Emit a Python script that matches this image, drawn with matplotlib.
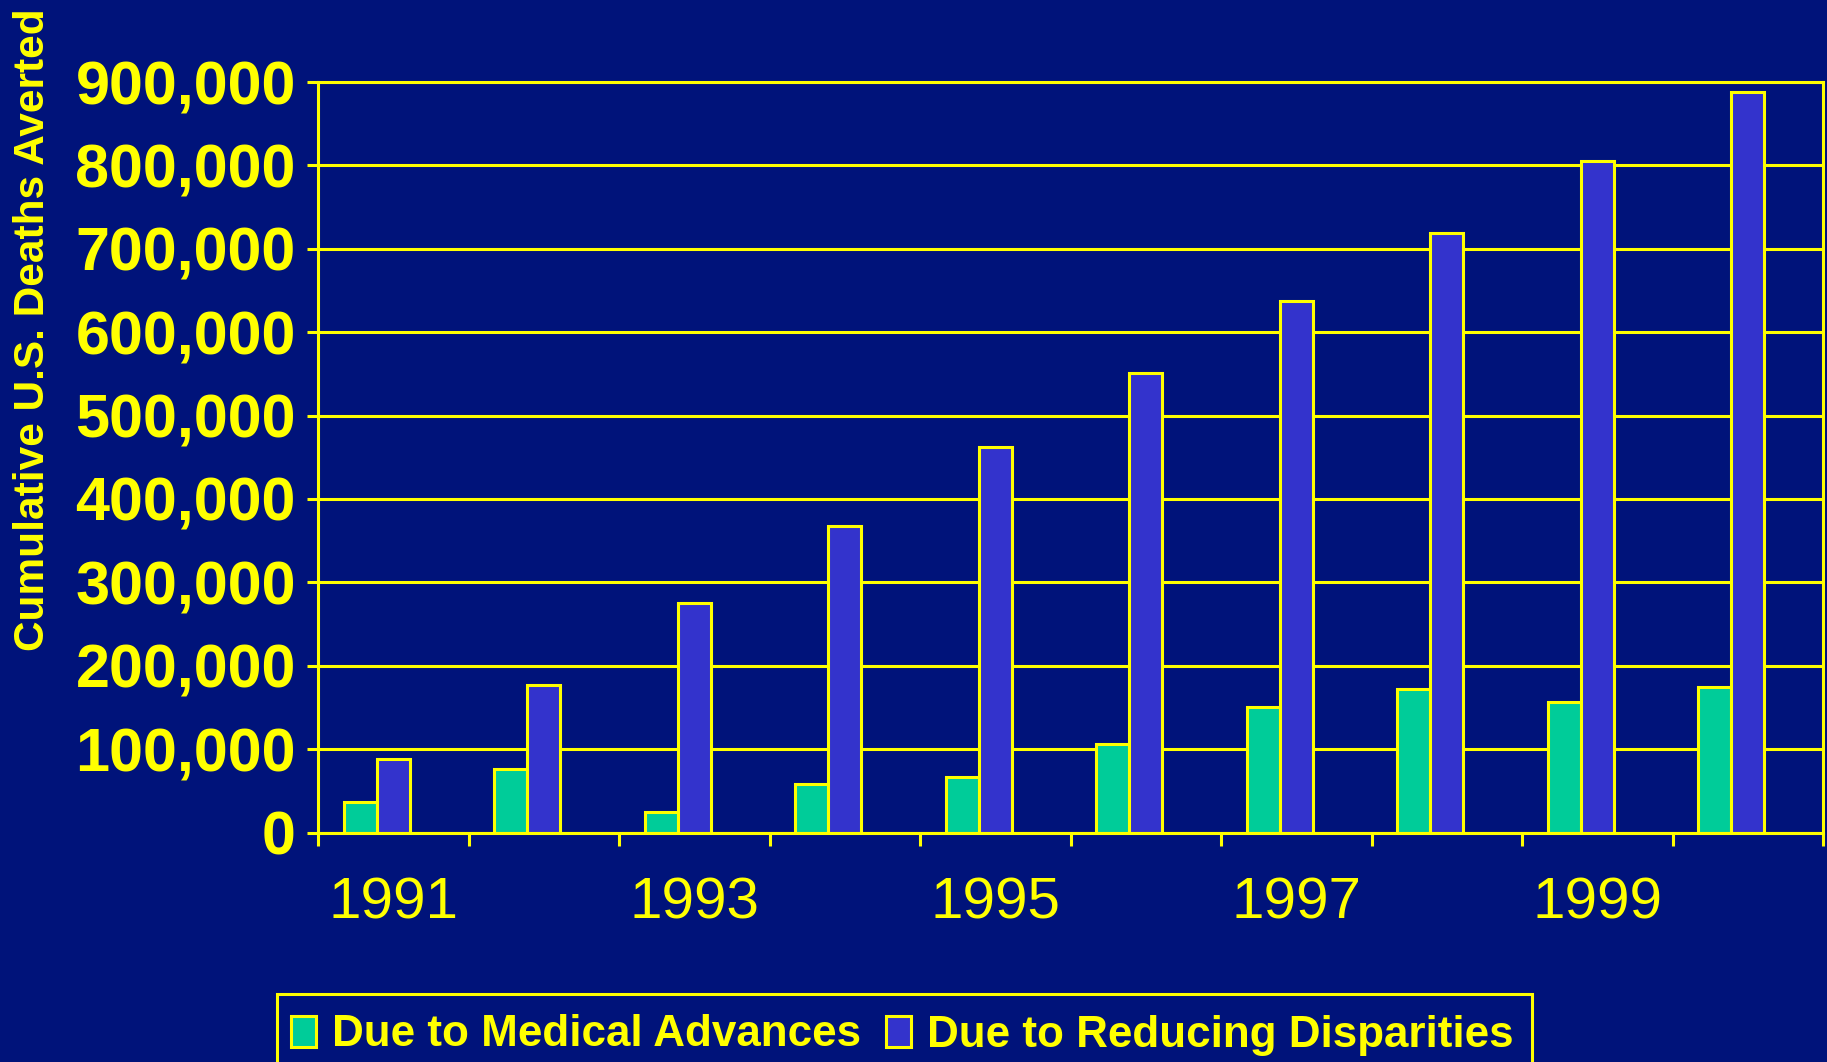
import matplotlib
matplotlib.use("Agg")
import matplotlib.pyplot as plt
from matplotlib.patches import Rectangle
from matplotlib.ticker import FixedLocator, FuncFormatter
import numpy as np

years = [1991, 1992, 1993, 1994, 1995, 1996, 1997, 1998, 1999, 2000]
medical = [37000, 76000, 24500, 58000, 67000, 106500, 150000, 172000, 156000, 174500]
disparities = [88000, 177000, 275000, 367000, 462000, 551000, 637000, 719000, 805000, 888000]
series_names = ["Due to Medical Advances", "Due to Reducing Disparities"]
yticks = [0, 100000, 200000, 300000, 400000, 500000, 600000, 700000, 800000, 900000]

navy = "#00137A"
yellow = "#FFFF00"
green = "#00CC99"
blue = "#3333CC"

plt.rcParams["font.family"] = ["Liberation Sans", "DejaVu Sans"]

fig = plt.figure(figsize=(18.27, 10.62), dpi=100, facecolor=navy)
ax = fig.add_axes([318 / 1827, 1 - 832.5 / 1062, (1823 - 318) / 1827, (832.5 - 82) / 1062])
ax.set_facecolor(navy)

x = np.arange(len(years))
w = 0.22
ax.bar(x - w, medical, w, color=green, edgecolor=yellow, linewidth=2.2, label=series_names[0], zorder=3)
ax.bar(x, disparities, w, color=blue, edgecolor=yellow, linewidth=2.2, label=series_names[1], zorder=3)

ax.set_xlim(-0.5, len(years) - 0.5)
ax.set_ylim(0, 900000)

ax.set_yticks(yticks)
ax.yaxis.set_major_formatter(FuncFormatter(lambda v, p: f"{int(v):,}"))
ax.grid(axis="y", color=yellow, linewidth=2.2, zorder=1)
ax.tick_params(axis="y", colors=yellow, length=8, width=2.2, pad=8, labelsize=44)
for lbl in ax.get_yticklabels():
    lbl.set_fontweight("bold")

# boundaries get tick marks, every other year gets a label
ax.xaxis.set_major_locator(FixedLocator(np.arange(len(years) + 1) - 0.5))
ax.xaxis.set_major_formatter(FuncFormatter(lambda v, p: ""))
ax.xaxis.set_minor_locator(FixedLocator(x[::2]))
ax.set_xticklabels([str(y) for y in years[::2]], minor=True)
ax.tick_params(axis="x", which="major", colors=yellow, length=9, width=2.2)
ax.tick_params(axis="x", which="minor", colors=yellow, length=0, pad=32, labelsize=42)

for s in ax.spines.values():
    s.set_color(yellow)
    s.set_linewidth(2.2)
    s.set_zorder(4)

fig.text(33 / 1827, 1 - 330 / 1062, "Cumulative U.S. Deaths Averted", rotation=90,
         ha="center", va="center", color=yellow, fontsize=30.5, fontweight="bold")

# legend box runs off the bottom edge, so draw the frame by hand
fig.patches.append(Rectangle((277 / 1827, -0.05), (1532 - 277) / 1827, 0.05 + 1 - 994 / 1062,
                             transform=fig.transFigure, facecolor=navy, edgecolor=yellow,
                             linewidth=2.2, zorder=0))
leg = fig.legend(loc="center left", bbox_to_anchor=(277 / 1827, 1 - 1035 / 1062), ncol=2,
                 frameon=False, prop={"size": 31.7, "weight": "bold"},
                 handlelength=0.57, handleheight=0.7, handletextpad=0.36,
                 columnspacing=0.57, borderpad=0.32, borderaxespad=0)
for t in leg.get_texts():
    t.set_color(yellow)

fig.savefig("out.png", dpi=100, facecolor=navy)
